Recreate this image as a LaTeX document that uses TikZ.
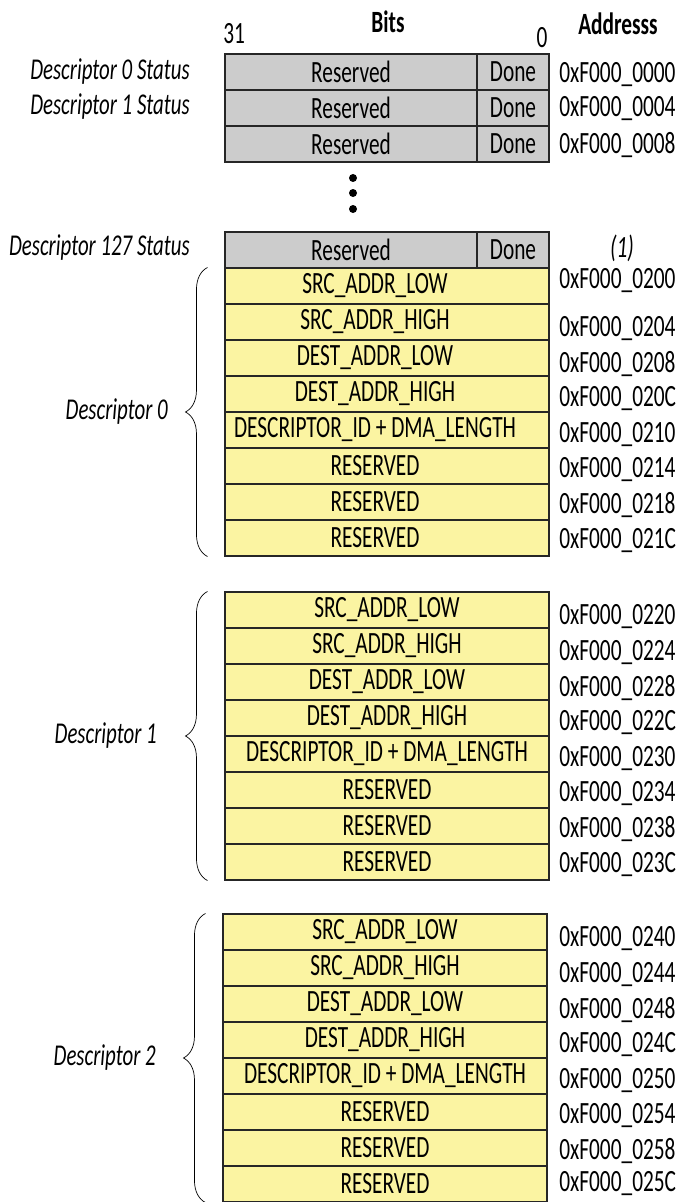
\documentclass[tikz,border=0pt]{standalone}
\usepackage{fontspec}
\setmainfont{Carlito}[FakeStretch=0.69]
\usetikzlibrary{decorations.pathreplacing}

\newdimen\px \px=0.025cm
\definecolor{statgray}{HTML}{CCCCCC}
\definecolor{descyellow}{HTML}{FBF4A2}
\def\desclabels{SRC\_ADDR\_LOW, SRC\_ADDR\_HIGH, DEST\_ADDR\_LOW, DEST\_ADDR\_HIGH,
  DESCRIPTOR\_ID + DMA\_LENGTH, RESERVED, RESERVED, RESERVED}

\begin{document}
\begin{tikzpicture}[x=\px, y=-\px,
    every node/.style={font=\fontsize{22}{26}\selectfont, inner sep=0pt},
    cell/.style={draw=black!85, line width=0.75pt, minimum height=36\px},
    statcell/.style={cell, fill=statgray},
    desccell/.style={cell, fill=descyellow, minimum width=324\px},
    addr/.style={anchor=west},
    tag/.style={anchor=east, font=\fontsize{21.5}{26}\selectfont\itshape},
    brace line/.style={decorate, decoration={brace, amplitude=22\px}, line width=0.5pt}]
    \useasboundingbox (0,0) rectangle (684,1202);

    % Заголовок
    \node (bits) at (388,22) {\bfseries Bits};
    \node (addrhead) at (618,24) {\bfseries Addresss};
    \node[anchor=west] (msb) at (223,34) {31};
    \node (lsb) at (542,38) {0};

    % Слова статуса
    \foreach \sn/\y in {0/72, 1/108, 2/144, 127/250} {
      \node[statcell, minimum width=252\px] (s\sn res) at (351,\y) {Reserved};
      \node[statcell, minimum width=72\px] (s\sn done) at (513,\y) {Done};
    }
    \node[tag] (s0tag) at (190,72) {Descriptor 0 Status};
    \node[tag] (s1tag) at (190,107) {Descriptor 1 Status};
    \node[tag] (s127tag) at (190,248) {Descriptor 127 Status};
    \node[addr] (s0addr) at (559,75) {0xF000\_0000};
    \node[addr] (s1addr) at (559,109) {0xF000\_0004};
    \node[addr] (s2addr) at (559,145) {0xF000\_0008};
    \node (note) at (622,248) {\itshape (1)};

    % Пропуск
    \foreach \y in {178,193,209} \fill (353,\y) circle (4\px);

    % Дескрипторы
    \foreach \dn/\top/\bx/\tx/\lx/\addrs in {
        0/268/387/-24/168/{0200,0204,0208,020C,0210,0214,0218,021C},
        1/592/387/0/157/{0220,0224,0228,022C,0230,0234,0238,023C},
        2/914/385/0/156/{0240,0244,0248,024C,0250,0254,0258,025C}} {
      \foreach \lbl [count=\i from 0] in \desclabels
        \node[desccell] (d\dn r\i) at (\bx,\top+18+36*\i) {\hspace*{\tx\px}\lbl};
      \foreach \ad [count=\i from 0] in \addrs {
        \pgfmathsetmacro\ay{\top+25+35.3*\i-12*(\dn==0)*(\i==0)-3*(\dn==2)*(\i==7)}
        \node[addr] (d\dn a\i) at (559,\ay) {0xF000\_\ad};
      }
      \draw[brace line] ([xshift=-17\px]d\dn r7.south west) -- ([xshift=-17\px]d\dn r0.north west);
      \node[tag] (d\dn tag) at (\lx,\top+144) {Descriptor \dn};
    }
\end{tikzpicture}
\end{document}
